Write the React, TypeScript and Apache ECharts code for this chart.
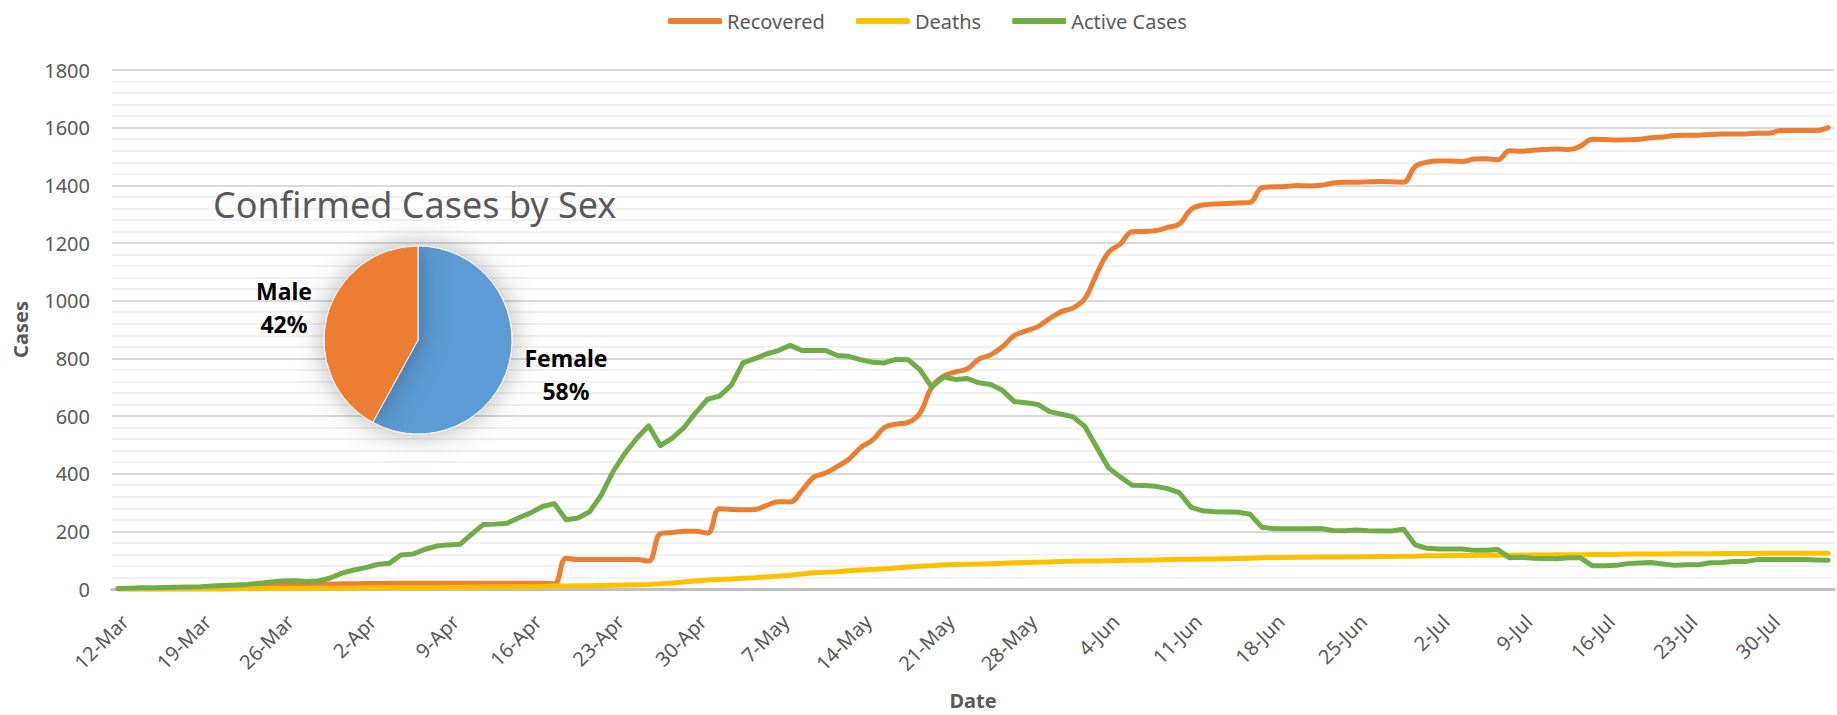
import React, { useEffect, useRef } from "react";
import * as echarts from "echarts";

// ---- data ----
const MONTHS = ["Jan", "Feb", "Mar", "Apr", "May", "Jun", "Jul", "Aug", "Sep", "Oct", "Nov", "Dec"];
const START_DATE = [2020, 2, 12]; // 12-Mar-2020
const DAY_COUNT = 146; // 12-Mar .. 4-Aug

const seriesNames = ["Recovered", "Deaths", "Active Cases"];

const recovered = [
  0, 0, 0, 0, 0, 0, 0, 0, 0, 0,
  2, 4, 6, 9, 13, 15, 16, 17, 17, 18,
  18, 19, 19, 20, 20, 20, 20, 20, 20, 20,
  20, 20, 20, 20, 20, 20, 20, 18, 107, 102,
  102, 102, 102, 102, 102, 97, 192, 196, 200, 200,
  194, 278, 276, 275, 276, 290, 303, 302, 342, 388,
  402, 425, 451, 491, 517, 560, 572, 578, 610, 700,
  738, 753, 763, 797, 812, 840, 879, 895, 910, 938,
  962, 975, 1008, 1094, 1168, 1197, 1239, 1240, 1243, 1254,
  1266, 1317, 1332, 1335, 1337, 1339, 1341, 1392, 1395, 1396,
  1399, 1398, 1400, 1408, 1411, 1411, 1412, 1413, 1412, 1411,
  1466, 1480, 1484, 1484, 1483, 1491, 1492, 1489, 1520, 1518,
  1522, 1524, 1526, 1524, 1536, 1560, 1559, 1557, 1558, 1560,
  1565, 1568, 1573, 1574, 1574, 1576, 1578, 1578, 1578, 1581,
  1581, 1590, 1590, 1590, 1590, 1600,
];

const deaths = [
  0, 0, 0, 0, 0, 0, 0, 0, 0, 1,
  1, 1, 1, 2, 2, 2, 2, 3, 3, 3,
  3, 4, 4, 4, 5, 5, 5, 5, 6, 6,
  6, 7, 7, 7, 8, 8, 9, 10, 10, 11,
  11, 12, 13, 14, 15, 16, 18, 21, 24, 28,
  31, 33, 35, 37, 39, 42, 45, 48, 52, 56,
  58, 60, 63, 66, 68, 70, 73, 76, 79, 81,
  83, 85, 86, 87, 88, 89, 91, 92, 93, 94,
  95, 96, 97, 97, 98, 99, 100, 100, 101, 102,
  103, 103, 104, 104, 105, 106, 107, 108, 109, 109,
  110, 110, 111, 111, 111, 112, 112, 113, 113, 114,
  114, 115, 115, 116, 116, 116, 117, 117, 117, 118,
  118, 118, 119, 119, 119, 120, 120, 120, 121, 121,
  121, 121, 122, 122, 122, 122, 123, 123, 123, 123,
  124, 124, 124, 124, 124, 124,
];

const activeCases = [
  2, 3, 4, 4, 5, 6, 7, 8, 10, 12,
  14, 16, 20, 24, 28, 29, 26, 28, 38, 55,
  66, 74, 85, 89, 118, 121, 137, 149, 153, 155,
  190, 224, 225, 228, 247, 264, 286, 296, 240, 246,
  268, 327, 409, 471, 523, 566, 497, 523, 560, 612,
  658, 669, 706, 784, 799, 815, 827, 845, 827, 827,
  827, 810, 807, 795, 786, 784, 797, 795, 761, 700,
  735, 727, 730, 715, 709, 689, 650, 646, 640, 615,
  606, 597, 563, 491, 420, 388, 360, 359, 356, 348,
  334, 283, 271, 268, 267, 266, 259, 214, 209, 209,
  209, 209, 210, 203, 202, 205, 202, 201, 201, 207,
  153, 141, 139, 139, 139, 134, 134, 137, 108, 110,
  107, 106, 105, 108, 108, 81, 81, 82, 88, 90,
  92, 87, 82, 84, 84, 91, 92, 95, 95, 102,
  102, 102, 102, 102, 101, 100,
];

const sexLabels = ["Female", "Male"];
const sexShares = [58, 42];

const yTicks = { min: 0, max: 1800, interval: 200 };

function makeDates(): string[] {
  const out: string[] = [];
  const d = new Date(START_DATE[0], START_DATE[1], START_DATE[2]);
  for (let i = 0; i < DAY_COUNT; i++) {
    out.push(`${d.getDate()}-${MONTHS[d.getMonth()]}`);
    d.setDate(d.getDate() + 1);
  }
  return out;
}
const dates = makeDates();

const lineColors = ["#ED7D31", "#FFC000", "#70AD47"];
const pieColors = ["#5B9BD5", "#ED7D31"];
const FONT = "'Noto Sans', sans-serif";
const GREY = "#595959";

export default function App() {
  const ref = useRef<HTMLDivElement>(null);

  useEffect(() => {
    if (!ref.current) return;
    const chart = echarts.init(ref.current, undefined, { renderer: "svg" });
    const lineData = [recovered, deaths, activeCases];

    const option: any = {
      animation: false,
      backgroundColor: "#ffffff",
      textStyle: { fontFamily: FONT },
      legend: {
        data: seriesNames,
        top: 6,
        left: 663,
        itemWidth: 54,
        itemHeight: 6,
        itemGap: 31,
        icon: "roundRect",
        textStyle: { fontSize: 20, color: GREY, fontFamily: FONT },
      },
      grid: { left: 112, right: 3, top: 70, bottom: 122, containLabel: false },
      xAxis: {
        type: "category",
        data: dates,
        boundaryGap: true,
        axisTick: { show: false },
        axisLine: { lineStyle: { color: "#bfbfbf", width: 3 } },
        axisLabel: {
          interval: 6,
          rotate: 45,
          fontSize: 20,
          color: GREY,
          margin: 22,
          verticalAlign: "top",
          fontFamily: FONT,
        },
        splitLine: { show: false },
        name: "Date",
        nameLocation: "middle",
        nameGap: 101,
        nameTextStyle: { fontWeight: "bold", fontSize: 20, color: GREY, fontFamily: FONT },
      },
      yAxis: {
        type: "value",
        min: yTicks.min,
        max: yTicks.max,
        interval: yTicks.interval,
        axisLine: { show: false },
        axisTick: { show: false },
        axisLabel: {
          fontSize: 20,
          color: GREY,
          margin: 22,
          fontFamily: FONT,
          formatter: (v: number) => String(v),
        },
        splitLine: { lineStyle: { color: "#d9d9d9", width: 2 } },
        minorTick: { show: false, splitNumber: 5 },
        minorSplitLine: { show: true, lineStyle: { color: "#f2f2f2", width: 2 } },
        name: "Cases",
        nameLocation: "middle",
        nameGap: 82,
        nameTextStyle: { fontWeight: "bold", fontSize: 20, color: GREY, fontFamily: FONT },
      },
      series: [
        ...seriesNames.map((name, i) => ({
          name,
          type: "line",
          data: lineData[i],
          symbol: "none",
          smooth: i === 0 ? 0.4 : false,
          color: lineColors[i],
          lineStyle: { width: 5, color: lineColors[i], cap: "round", join: "round" },
          z: 2 + i,
        })),
        {
          name: "Confirmed Cases by Sex",
          type: "pie",
          center: [418, 340],
          radius: 94,
          startAngle: 90,
          clockwise: true,
          silent: true,
          z: 10,
          label: { show: false },
          labelLine: { show: false },
          itemStyle: {
            borderColor: "#ffffff",
            borderWidth: 1,
            shadowBlur: 30,
            shadowColor: "rgba(0,0,0,0.3)",
          },
          data: sexLabels.map((n, i) => ({
            name: n,
            value: sexShares[i],
            itemStyle: { color: pieColors[i] },
          })),
        },
      ],
      graphic: [
        {
          type: "text",
          x: 213,
          y: 204,
          z: 20,
          style: {
            text: "Confirmed Cases by Sex",
            fill: GREY,
            fontSize: 36,
            fontFamily: FONT,
            align: "left",
            verticalAlign: "middle",
          },
        },
        {
          type: "text",
          x: 566,
          y: 374,
          z: 20,
          style: {
            text: `${sexLabels[0]}\n${sexShares[0]}%`,
            fill: "#000000",
            fontSize: 23,
            fontWeight: "bold",
            fontFamily: FONT,
            lineHeight: 33,
            align: "center",
            verticalAlign: "middle",
          },
        },
        {
          type: "text",
          x: 284,
          y: 307,
          z: 20,
          style: {
            text: `${sexLabels[1]}\n${sexShares[1]}%`,
            fill: "#000000",
            fontSize: 23,
            fontWeight: "bold",
            fontFamily: FONT,
            lineHeight: 33,
            align: "center",
            verticalAlign: "middle",
          },
        },
      ],
    };

    chart.setOption(option);
    return () => chart.dispose();
  }, []);

  return (
    <div
      ref={ref}
      style={{ position: "fixed", left: 0, top: 0, width: 1837, height: 715, background: "#fff" }}
    />
  );
}
